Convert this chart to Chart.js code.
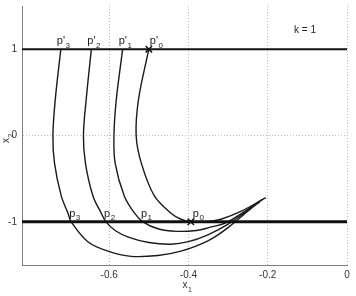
<!DOCTYPE html>
<html lang="en">
<head>
  <meta charset="UTF-8" />
  <title>Trajectories k = 1</title>
  <script src="https://cdn.jsdelivr.net/npm/chart.js"></script>
  <style>
    * { box-sizing: border-box; }
    html, body { margin: 0; padding: 0; background: #fff; }
    #wrap { position: relative; width: 356px; height: 296px; }
  </style>
</head>
<body>
  <div id="wrap"><canvas id="traj"></canvas></div>

  <script>
    const xTicks = [-0.6, -0.4, -0.2, 0];
    const yTicks = [-1, 0, 1];
    const xRange = [-0.82, 0];
    const yRange = [-1.5, 1.5];

    // p'_i on x2 = 1 and p_i on x2 = -1
    const topX = [-0.5, -0.566, -0.645, -0.722];
    const botX = [-0.394, -0.515, -0.608, -0.696];

    const traj0 = [[-0.5, 1.0], [-0.526, 0.42], [-0.532, 0.0], [-0.519, -0.32], [-0.486, -0.70],
      [-0.444, -0.90], [-0.419, -0.97], [-0.394, -1.0], [-0.356, -1.0], [-0.318, -0.97],
      [-0.268, -0.88], [-0.205, -0.72]];
    const traj1 = [[-0.566, 1.0], [-0.582, 0.42], [-0.588, 0.0], [-0.585, -0.32], [-0.562, -0.70],
      [-0.536, -0.90], [-0.515, -1.0], [-0.477, -1.08], [-0.43, -1.11], [-0.38, -1.10],
      [-0.351, -1.07], [-0.301, -1.0], [-0.213, -0.74]];
    const traj2 = [[-0.645, 1.0], [-0.658, 0.42], [-0.665, 0.0], [-0.660, -0.32], [-0.641, -0.70],
      [-0.620, -0.90], [-0.608, -1.0], [-0.585, -1.10], [-0.55, -1.18], [-0.50, -1.24],
      [-0.444, -1.26], [-0.40, -1.23], [-0.351, -1.15], [-0.301, -1.03], [-0.220, -0.77]];
    const traj3 = [[-0.722, 1.0], [-0.736, 0.42], [-0.742, 0.0], [-0.738, -0.32], [-0.721, -0.70],
      [-0.704, -0.90], [-0.696, -1.0], [-0.654, -1.23], [-0.603, -1.34], [-0.545, -1.40],
      [-0.477, -1.39], [-0.419, -1.34], [-0.351, -1.22], [-0.301, -1.07], [-0.228, -0.79]];

    const FONT = 'Liberation Sans, Arial, sans-serif';
    const toPts = arr => arr.map(p => ({ x: p[0], y: p[1] }));

    function curve(arr) {
      return {
        data: toPts(arr),
        showLine: true,
        borderColor: '#1a1a1a',
        borderWidth: 1.4,
        pointRadius: 0,
        tension: 0.35
      };
    }

    function hLine(yv, w) {
      return {
        data: [{ x: xRange[0], y: yv }, { x: xRange[1], y: yv }],
        showLine: true,
        borderColor: '#111',
        borderWidth: w,
        pointRadius: 0
      };
    }

    // text with a small index below the baseline
    function drawSub(ctx, main, sub, x, y, size) {
      ctx.font = size + 'px ' + FONT;
      ctx.fillText(main, x, y);
      const w = ctx.measureText(main).width;
      ctx.font = Math.round(size * 0.72) + 'px ' + FONT;
      ctx.fillText(sub, x + w + 0.5, y + 3.5);
    }

    const labelPlugin = {
      id: 'labels',
      afterDatasetsDraw(chart) {
        const { ctx, chartArea } = chart;
        const sx = chart.scales.x, sy = chart.scales.y;
        ctx.save();
        ctx.fillStyle = '#222';
        ctx.textAlign = 'left';
        ctx.textBaseline = 'alphabetic';
        const yt = sy.getPixelForValue(1), yb = sy.getPixelForValue(-1);
        topX.forEach((v, i) => {
          const px = sx.getPixelForValue(v) + (i === 0 ? 1 : -4);
          drawSub(ctx, "p'", String(i), px, yt - 5, 11);
        });
        botX.forEach((v, i) => {
          const px = sx.getPixelForValue(v) + (i === 0 ? 2 : -2);
          drawSub(ctx, 'p', String(i), px, yb - 5, 11);
        });
        ctx.fillStyle = '#222';
        ctx.font = '10px ' + FONT;
        ctx.fillText('k = 1', chartArea.right - 53, chartArea.top + 27);

        // axis titles
        ctx.fillStyle = '#333';
        drawSub(ctx, 'x', '1', sx.getPixelForValue(-0.4) - 6, 288, 10);
        ctx.translate(9, 143);
        ctx.rotate(-Math.PI / 2);
        drawSub(ctx, 'x', '2', 0, 0, 10);
        ctx.restore();
      }
    };

    function fixBox(size, horiz) {
      return s => {
        if (horiz) s.height = size; else s.width = size;
        s.paddingLeft = s.paddingRight = s.paddingTop = s.paddingBottom = 0;
      };
    }

    new Chart(document.getElementById('traj'), {
      type: 'scatter',
      data: {
        datasets: [
          hLine(1, 2),
          hLine(-1, 3),
          curve(traj0),
          curve(traj1),
          curve(traj2),
          curve(traj3),
          {
            data: [{ x: topX[0], y: 1 }, { x: botX[0], y: -1 }],
            showLine: false,
            pointStyle: 'crossRot',
            pointRadius: 4.5,
            borderWidth: 1.5,
            borderColor: '#111'
          }
        ]
      },
      options: {
        responsive: true,
        maintainAspectRatio: false,
        animation: false,
        layout: { padding: { left: 0, top: 5, right: 9, bottom: 0 } },
        plugins: { legend: { display: false }, tooltip: { enabled: false } },
        scales: {
          x: {
            type: 'linear',
            min: xRange[0],
            max: xRange[1],
            afterBuildTicks: s => { s.ticks = xTicks.map(v => ({ value: v })); },
            afterFit: fixBox(31, true),
            grid: { color: '#bdbdbd', lineWidth: 1, drawTicks: false },
            border: { display: true, color: '#808080', width: 1, dash: [1, 2] },
            ticks: {
              padding: 4,
              color: '#333',
              font: { size: 10, family: FONT },
              callback: v => (v === 0 ? '0' : v.toFixed(1))
            }
          },
          y: {
            type: 'linear',
            min: yRange[0],
            max: yRange[1],
            afterBuildTicks: s => { s.ticks = yTicks.map(v => ({ value: v })); },
            afterFit: fixBox(22, false),
            grid: { color: '#bdbdbd', lineWidth: 1, drawTicks: false },
            border: { display: true, color: '#808080', width: 1, dash: [1, 2] },
            ticks: {
              padding: 5,
              color: '#333',
              font: { size: 10, family: FONT },
              callback: v => String(v)
            }
          }
        }
      },
      plugins: [labelPlugin]
    });
  </script>
</body>
</html>
